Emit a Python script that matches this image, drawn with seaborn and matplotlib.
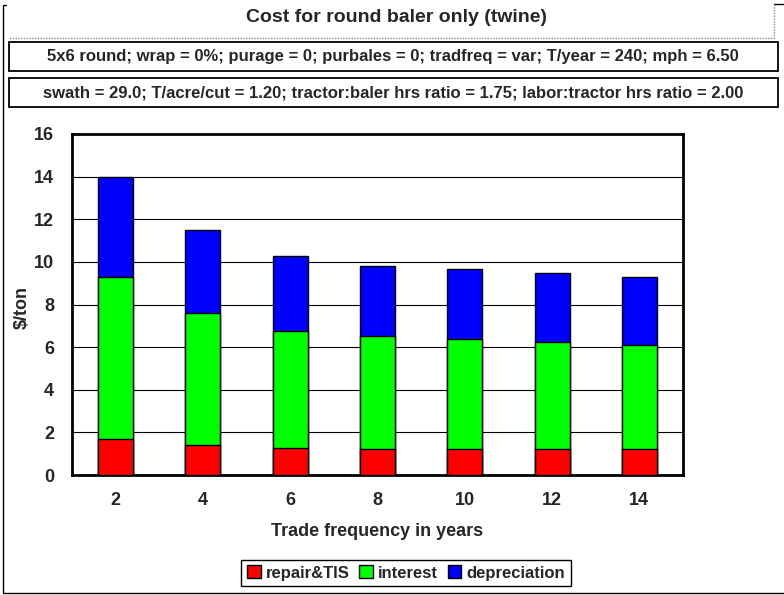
import numpy as np
import pandas as pd
import seaborn as sns
import matplotlib.pyplot as plt
from matplotlib.patches import Rectangle, Patch
from matplotlib.lines import Line2D

# values ($/ton)
years = [2, 4, 6, 8, 10, 12, 14]
repair = [1.67, 1.40, 1.28, 1.21, 1.21, 1.21, 1.20]
interest = [7.60, 6.20, 5.50, 5.32, 5.18, 5.05, 4.89]
depreciation = [4.73, 3.88, 3.50, 3.27, 3.28, 3.21, 3.18]

labels = ["repair&TIS", "interest", "depreciation"]
colors = ["#ff0000", "#00ff00", "#0000ff"]

title = "Cost for round baler only (twine)"
sub1 = "5x6 round; wrap = 0%; purage = 0; purbales = 0; tradfreq = var; T/year = 240; mph = 6.50"
sub2 = "swath = 29.0; T/acre/cut = 1.20; tractor:baler hrs ratio = 1.75; labor:tractor hrs ratio = 2.00"

df = pd.DataFrame({"years": years, "repair": repair,
                   "interest": interest, "depreciation": depreciation})
df["c1"] = df["repair"]
df["c2"] = df["c1"] + df["interest"]
df["c3"] = df["c2"] + df["depreciation"]

sns.set_style("white")
plt.rcParams["font.family"] = ["Liberation Sans", "DejaVu Sans"]
plt.rcParams["font.weight"] = "bold"

fig = plt.figure(figsize=(7.84, 5.95), dpi=100)
W, H = 784, 595

def fx(x):
    return x / W

def fy(y):
    return 1 - y / H

def fline(xs, ys, **kw):
    fig.lines.append(Line2D([fx(x) for x in xs], [fy(y) for y in ys],
                            transform=fig.transFigure, **kw))

# outer border (left, bottom, short top-right stub)
fline([6, 3, 3, 784], [5, 5, 593, 593], color="black", linewidth=1)
fline([774, 784], [4, 4], color="black", linewidth=1)
# title box (grey dotted right and bottom edges)
fline([774, 774, 8], [4, 38, 38], color="#888888", linewidth=1, linestyle=(0, (1, 1)))
fig.text(fx(397), fy(18), title, ha="center", va="center", fontsize=14, fontweight="bold")

# subtitle boxes
for y0, txt in [(42, sub1), (78, sub2)]:
    fig.patches.append(Rectangle((fx(9), fy(y0 + 29)), fx(769), 29 / H, transform=fig.transFigure,
                                 fill=False, edgecolor="black", linewidth=1.3))
    fig.text(fx(393), fy(y0 + 14.5), txt, ha="center", va="center", fontsize=12, fontweight="bold")

ax = fig.add_axes([fx(72), fy(475), fx(683 - 72), (475 - 134) / H])

for col, c in zip(["c3", "c2", "c1"], colors[::-1]):
    sns.barplot(data=df, x="years", y=col, color=c, width=0.4,
                edgecolor="black", linewidth=1, saturation=1, ax=ax, zorder=3)

ax.set_ylim(0, 16)
ax.set_xlim(-0.5, 6.5)
ax.set_yticks(np.arange(0, 17, 2))
ax.yaxis.grid(True, color="black", linewidth=0.8)
ax.set_axisbelow(True)
for s in ax.spines.values():
    s.set_visible(True)
    s.set_color("black")
    s.set_linewidth(2)

ax.set_xticks(np.arange(-0.5, 7, 1), minor=True)
ax.tick_params(axis="x", which="major", length=0, pad=12, labelsize=13)
ax.tick_params(axis="x", which="minor", length=5, width=1, color="gray", direction="out")
ax.tick_params(axis="y", length=5, width=1, color="gray", direction="out", pad=8, labelsize=13)
for t in ax.get_xticklabels() + ax.get_yticklabels():
    t.set_fontweight("bold")

ax.set_xlabel("Trade frequency in years", fontsize=13, fontweight="bold", labelpad=10)
ax.set_ylabel("\\$/ton", fontsize=13, fontweight="bold")
ax.yaxis.set_label_coords(-0.067, 0.49)

handles = [Patch(facecolor=c, edgecolor="black", label=l) for c, l in zip(colors, labels)]
fig.legend(handles=handles, loc="center", bbox_to_anchor=(fx(406), fy(573)), ncol=3,
           frameon=True, fancybox=False, edgecolor="black", framealpha=1,
           prop={"weight": "bold", "size": 12}, handlelength=0.8, handleheight=0.8,
           handletextpad=0.3, columnspacing=0.6, borderpad=0.35)

fig.savefig("out.png", dpi=100)
